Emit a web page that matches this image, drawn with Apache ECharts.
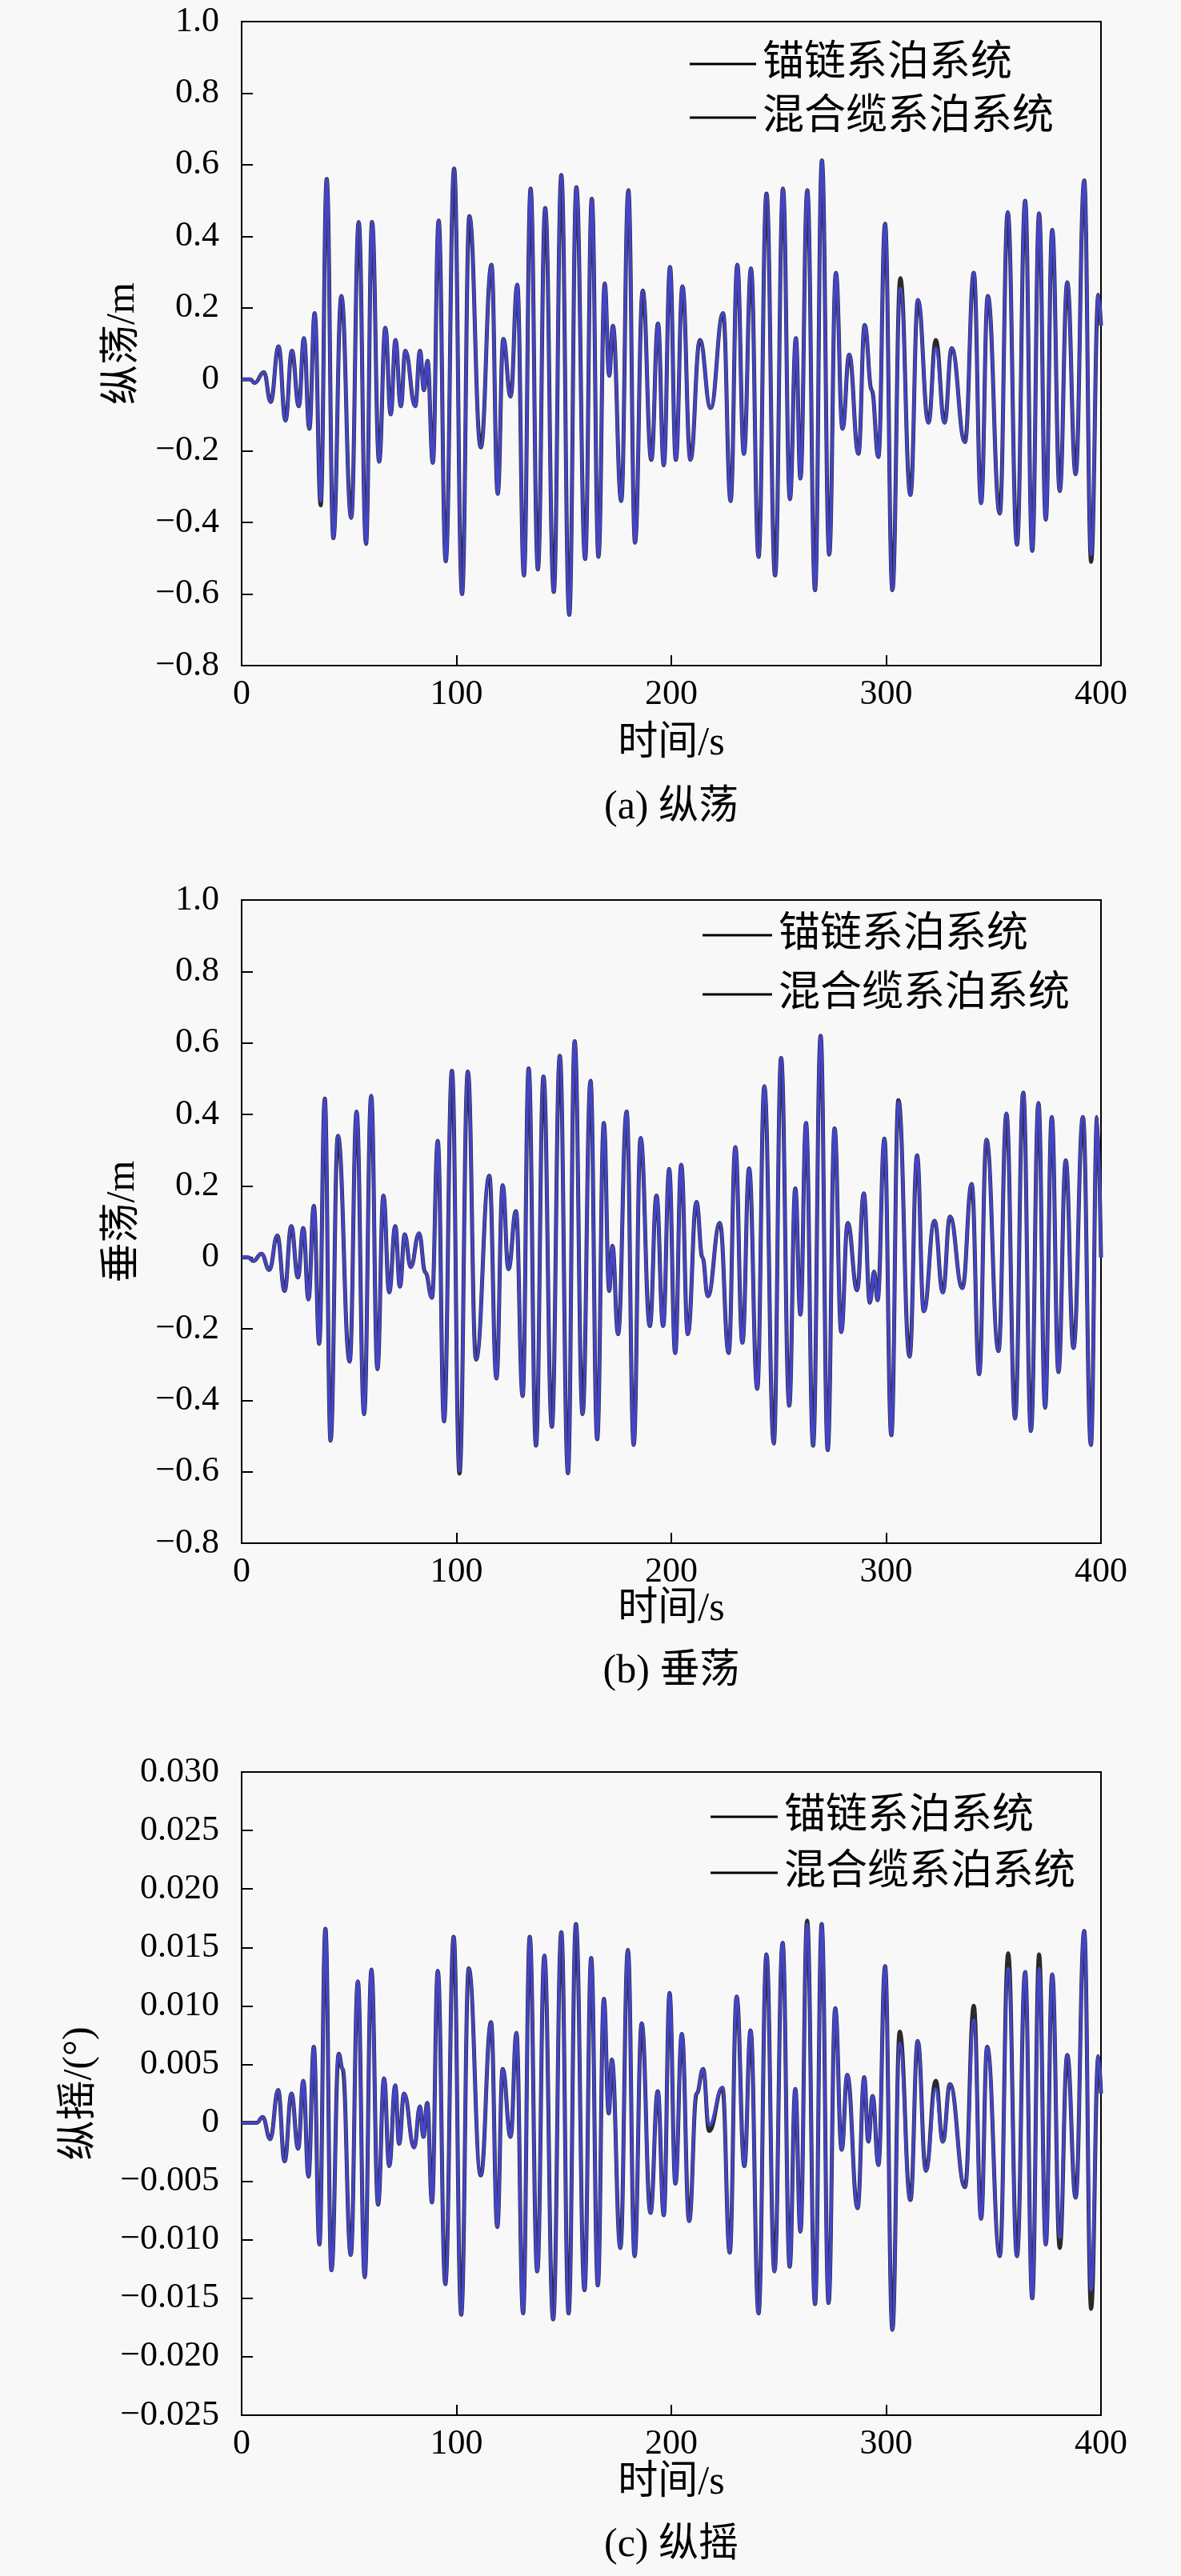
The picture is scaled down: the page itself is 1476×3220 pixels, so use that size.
<!DOCTYPE html>
<html><head><meta charset="utf-8">
<script src="https://cdn.jsdelivr.net/npm/echarts@6/dist/echarts.min.js"></script>
<style>html,body{margin:0;padding:0;background:#f8f8f8}#c{width:1476px;height:3220px}</style>
</head><body><div id="c"></div><script>
const seriesNames = ['锚链系泊系统', '混合缆系泊系统'];
const yNames = ['纵荡/m', '垂荡/m', '纵摇/(°)'];
const xName = '时间/s';
const captions = ['(a) 纵荡', '(b) 垂荡', '(c) 纵摇'];
const xTickLabels = ['0', '100', '200', '300', '400'];
const yTicksMotion = ['\u22120.8', '\u22120.6', '\u22120.4', '\u22120.2', '0', '0.2', '0.4', '0.6', '0.8', '1.0'];
const yTicksPitch = ['\u22120.025', '\u22120.020', '\u22120.015', '\u22120.010', '\u22120.005', '0', '0.005', '0.010', '0.015', '0.020', '0.025', '0.030'];

// (a) surge
const surgeTime = [
0,4,6,10.4,13.5,17.2,20.4,23.4,26.6,29,
31.5,34,36.8,39.6,42.7,46.4,51,54.5,57.9,60.7,
64,66.9,69.4,71.6,74.1,76.2,80.8,83,84.9,86.5,
89,91.7,95,98.9,102.6,106,111.3,116.3,119.2,121.8,
125.2,128.3,131.4,134.5,137.9,141.3,145.3,148.8,152.5,155.8,
159.9,163,166.1,169,171.1,172.8,176.7,180,183.1,186.7,
190.7,193.8,196.5,199.4,202.1,205.2,208.9,213.3,218.3,224.1,
227.6,230.7,233.8,237.1,240.6,244.3,248.3,252,255.2,258,
260.1,263.3,266.9,270.1,273.5,276.6,279.7,282.8,287.1,290,
293.3,296.4,299.5,302.9,306.6,311.3,314.8,319.7,323.1,327.2,
330.5,336.7,340.8,344.2,347.3,352.9,356.6,360.9,364.7,368,
371.2,374.3,377.3,380.8,384.3,388.2,392.2,395.4,398.8,400];
const surgeHybrid = [
0,0,-0.01,0.02,-0.063,0.092,-0.115,0.08,-0.075,0.115,
-0.138,0.185,-0.34,0.56,-0.444,0.233,-0.387,0.44,-0.46,0.44,
-0.23,0.144,-0.098,0.11,-0.075,0.08,-0.075,0.08,-0.03,0.052,
-0.233,0.444,-0.508,0.589,-0.6,0.456,-0.19,0.32,-0.32,0.113,
-0.048,0.265,-0.548,0.533,-0.531,0.479,-0.594,0.571,-0.658,0.537,
-0.502,0.505,-0.496,0.268,0.01,0.15,-0.34,0.529,-0.456,0.248,
-0.225,0.156,-0.24,0.314,-0.225,0.26,-0.225,0.11,-0.08,0.185,
-0.34,0.32,-0.208,0.31,-0.496,0.519,-0.548,0.533,-0.335,0.115,
-0.277,0.529,-0.589,0.612,-0.49,0.298,-0.138,0.069,-0.208,0.152,
-0.03,-0.217,0.435,-0.589,0.254,-0.323,0.222,-0.121,0.087,-0.121,
0.087,-0.175,0.298,-0.346,0.233,-0.375,0.467,-0.462,0.499,-0.479,
0.464,-0.392,0.418,-0.312,0.271,-0.265,0.556,-0.49,0.237,0.15];
const surgeChainDiff = [[36.8,-0.352],[306.6,0.283],[323.1,0.11],[395.4,-0.51]];

// (b) heave
const heaveTime = [
0,3,5.5,9.2,12.9,16.6,20,23.1,26.2,28.7,
31.1,33.6,36.1,38.7,41.4,44.8,50.3,53.5,57,60.3,
63.2,66,68.7,71.5,73.7,75.9,78.7,82.6,85.5,88.6,
91.3,94.2,97.9,101.4,105.3,109.1,115.3,118.6,121.5,124.2,
127.7,130.8,133.6,137,140.5,144.4,148.1,151.9,155,158.7,
162.4,165.5,168.6,171.1,172.6,175.2,179.2,182.5,185.7,190,
193.1,196.2,199,201.8,204.6,207.7,211.7,214.5,217,222.6,
226.7,229.8,233.1,236.2,240,243.3,247.7,251.1,254.9,257.7,
260.1,262.7,266,269.5,272.8,276,279.1,282.1,286.5,289.6,
292.4,294.4,296,299.2,302.4,305.7,310.9,314.4,317.5,322.5,
326.4,329.7,335.5,339.8,343.3,346.7,352.3,356,360,363.8,
367.4,370.9,374,377.1,380.2,383.6,387.2,391.6,395.3,398.2,
400];
const heaveHybrid = [
0,0,-0.01,0.01,-0.035,0.061,-0.094,0.087,-0.056,0.082,
-0.118,0.144,-0.242,0.444,-0.513,0.34,-0.292,0.408,-0.439,0.452,
-0.313,0.173,-0.098,0.087,-0.082,0.064,-0.027,0.067,-0.042,-0.113,
0.326,-0.459,0.522,-0.598,0.52,-0.286,0.228,-0.339,0.202,-0.033,
0.129,-0.388,0.529,-0.527,0.506,-0.474,0.564,-0.604,0.605,-0.439,
0.494,-0.509,0.376,-0.094,0.032,-0.215,0.408,-0.525,0.334,-0.192,
0.173,-0.192,0.247,-0.268,0.259,-0.215,0.155,0.0,-0.109,0.096,
-0.268,0.308,-0.239,0.249,-0.368,0.479,-0.521,0.558,-0.415,0.193,
-0.16,0.376,-0.527,0.62,-0.539,0.361,-0.209,0.096,-0.092,0.179,
-0.127,-0.04,-0.12,0.332,-0.498,0.435,-0.278,0.285,-0.151,0.102,
-0.098,0.114,-0.086,0.205,-0.327,0.329,-0.262,0.402,-0.451,0.461,
-0.486,0.432,-0.421,0.393,-0.321,0.271,-0.254,0.393,-0.525,0.393,
0.0];
const heaveChainDiff = [[101.4,-0.605],[305.7,0.44]];

// (c) pitch
const pitchTime = [
0,7,9.8,13.3,17,20,23.2,26.3,28.7,31.1,
33.6,36.2,39,41.8,45.2,47,50.8,54.1,57.3,60.4,
63.5,66.3,68.7,71.5,73.3,75.6,80.3,83,84.6,86.4,
88.6,91.3,94.8,98.7,102.2,105.7,111.3,116.1,119,121.5,
125.2,127.9,131,134.1,137.6,140.9,145,148.8,152.2,155.6,
159.6,162.7,165.8,168.6,170.9,172.3,176.3,179.8,182.9,186.2,
190.3,193.7,196.5,199.2,201.9,204.9,208.3,211.8,214.8,217.6,
223.8,227.2,230.4,234,236.9,240.6,244.3,248,251.8,255.1,
257.7,260.1,263.2,266.9,270,273.2,276.3,279.3,281.9,286.7,
289.8,291.7,293.7,296.4,299.5,302.9,306.3,311.3,314.7,318.5,
323.1,326.4,329.7,336.7,340.8,344.2,347,352.9,356.8,360.9,
364.7,368,371.2,374.3,377.3,380.8,384.3,388.2,392.2,395.4,
398.8,400];
const pitchHybrid = [
0,0,0.0005,-0.0014,0.0028,-0.0033,0.0025,-0.0022,0.0036,-0.0046,
0.0065,-0.0104,0.0166,-0.0126,0.0059,0.0046,-0.0113,0.0121,-0.0132,0.0131,
-0.007,0.0038,-0.0037,0.0032,-0.0018,0.0025,-0.0021,0.0014,-0.0012,0.0017,
-0.0068,0.013,-0.0138,0.0159,-0.0164,0.0132,-0.0045,0.0086,-0.0089,0.0046,
-0.0012,0.0077,-0.0163,0.0159,-0.0127,0.0143,-0.0168,0.0163,-0.0163,0.017,
-0.0143,0.0141,-0.0139,0.0106,0.0008,0.0054,-0.0107,0.0148,-0.0114,0.0085,
-0.0077,0.0027,-0.0079,0.0111,-0.0052,0.0076,-0.0084,0.0025,0.0046,-0.0002,
0.003,-0.0111,0.0108,-0.0037,0.0079,-0.0163,0.0144,-0.0127,0.0154,-0.0123,
0.0029,-0.0093,0.017,-0.0155,0.017,-0.0154,0.0098,-0.0023,0.0041,-0.0073,
0.0039,-0.0016,0.0023,-0.0036,0.0134,-0.0177,0.0068,-0.0066,0.007,-0.0041,
0.0029,-0.0016,0.0033,-0.0055,0.0088,-0.0082,0.0065,-0.0114,0.0132,-0.0114,
0.0129,-0.015,0.0132,-0.0104,0.0127,-0.0098,0.0058,-0.0064,0.0164,-0.0143,
0.0057,0.0025];
const pitchChainDiff = [[217.6,-0.0007],[263.2,0.0173],[306.3,0.0078],[323.1,0.0036],[340.8,0.01],[356.8,0.0145],[371.2,0.0144],[380.8,-0.0107],[395.4,-0.0159]];

const FONT = '"Liberation Serif", "Times New Roman", "Noto Sans CJK SC", serif';
const BLUE = '#4444c6';

function pairs(t, v) { return t.map((x, i) => [x, v[i]]); }
function chainOf(t, v, diff) {
  return t.map((x, i) => { const d = diff.find(p => p[0] === x); return [x, d ? d[1] : v[i]]; });
}

const panels = [
  { t: surgeTime, v: surgeHybrid, d: surgeChainDiff, top: 27, h: 805, min: -0.8, max: 1.0, iv: 0.2, ticks: yTicksMotion,
    yNameX: 154, xNameY: 930, capY: 1010, legTop: 48, legLeft: 857, legGap: 13, legW: 83 },
  { t: heaveTime, v: heaveHybrid, d: heaveChainDiff, top: 1125, h: 804, min: -0.8, max: 1.0, iv: 0.2, ticks: yTicksMotion,
    yNameX: 154, xNameY: 2012, capY: 2090, legTop: 1137, legLeft: 873, legGap: 20, legW: 87 },
  { t: pitchTime, v: pitchHybrid, d: pitchChainDiff, top: 2215, h: 804, min: -0.025, max: 0.03, iv: 0.005, ticks: yTicksPitch,
    yNameX: 100, xNameY: 3104, capY: 3182, legTop: 2239, legLeft: 883, legGap: 16, legW: 84 }
];

const GL = 302, GW = 1074;
const grid = [], xAxis = [], yAxis = [], series = [], legend = [], graphic = [];
panels.forEach((p, k) => {
  grid.push({ left: GL, top: p.top, width: GW, height: p.h, show: true, borderColor: '#000', borderWidth: 2,
    backgroundColor: 'transparent', containLabel: false, outerBoundsMode: 'none' });
  xAxis.push({ gridIndex: k, type: 'value', min: 0, max: 400, interval: 100,
    axisLine: { show: true, onZero: false, lineStyle: { color: '#000', width: 2 } },
    axisTick: { show: true, inside: true, length: 13, lineStyle: { color: '#000', width: 2 } },
    axisLabel: { color: '#000', fontSize: 44, fontFamily: FONT, margin: 14,
      formatter: v => xTickLabels[Math.round(v / 100)] },
    splitLine: { show: false } });
  yAxis.push({ gridIndex: k, type: 'value', min: p.min, max: p.max, interval: p.iv,
    axisLine: { show: true, onZero: false, lineStyle: { color: '#000', width: 2 } },
    axisTick: { show: true, inside: true, length: 14, lineStyle: { color: '#000', width: 2 } },
    axisLabel: { color: '#000', fontSize: 44, fontFamily: FONT, margin: 28,
      formatter: v => p.ticks[Math.round((v - p.min) / p.iv)] },
    splitLine: { show: false } });
  series.push({ name: seriesNames[0], type: 'line', xAxisIndex: k, yAxisIndex: k, data: chainOf(p.t, p.v, p.d),
    symbol: 'none', smooth: 0.45, smoothMonotone: 'x', lineStyle: { color: '#2a2a2a', width: 5 }, itemStyle: { color: '#000' }, z: 2 });
  series.push({ name: seriesNames[1], type: 'line', xAxisIndex: k, yAxisIndex: k, data: pairs(p.t, p.v),
    symbol: 'none', smooth: 0.45, smoothMonotone: 'x', lineStyle: { color: BLUE, width: 3.8 }, itemStyle: { color: BLUE }, z: 3 });
  legend.push({ orient: 'vertical', left: p.legLeft, top: p.legTop, icon: 'rect', itemWidth: p.legW, itemHeight: 3,
    itemGap: p.legGap, selectedMode: false,
    textStyle: { fontSize: 52, fontFamily: FONT, color: '#000', lineHeight: 54, padding: [0, 0, 0, 3] },
    data: seriesNames.map(n => ({ name: n, itemStyle: { color: '#000' } })) });
  graphic.push({ type: 'text', x: p.yNameX, y: p.top + p.h / 2, rotation: Math.PI / 2,
    style: { text: yNames[k], font: '50px ' + FONT, fill: '#000', textAlign: 'center', textVerticalAlign: 'middle' } });
  graphic.push({ type: 'text', x: GL + GW / 2, y: p.xNameY,
    style: { text: xName, font: '50px ' + FONT, fill: '#000', textAlign: 'center', textVerticalAlign: 'middle' } });
  graphic.push({ type: 'text', x: GL + GW / 2, y: p.capY,
    style: { text: captions[k], font: '50px ' + FONT, fill: '#000', textAlign: 'center', textVerticalAlign: 'middle' } });
});

const chart = echarts.init(document.getElementById('c'), null, { renderer: 'canvas' });
chart.setOption({ backgroundColor: '#f8f8f8', animation: false, grid, xAxis, yAxis, series, legend, graphic });
</script></body></html>
